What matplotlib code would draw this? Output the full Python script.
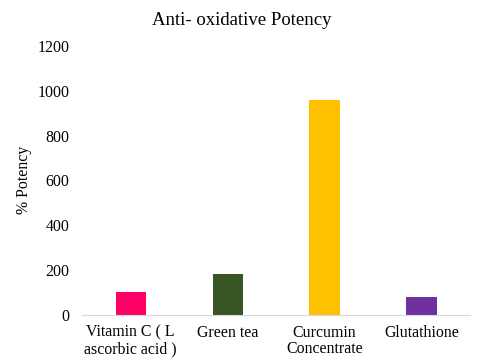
import matplotlib
matplotlib.use('Agg')
import matplotlib.pyplot as plt

categories = ['Vitamin C ( L\nascorbic acid )', 'Green tea', 'Curcumin\nConcentrate', 'Glutathione']
potency = [102, 182, 958, 80]
colors = ['#FF0066', '#375623', '#FFC000', '#7030A0']

plt.rcParams['font.family'] = ['Liberation Serif', 'DejaVu Serif']

fig = plt.figure(figsize=(4.83, 3.64), dpi=100)
ax = fig.add_axes([0.17, 0.135, 0.803, 0.739])

x = range(len(categories))
ax.bar(x, potency, width=0.31, color=colors)

ax.set_xlim(-0.5, 3.5)
ax.set_ylim(0, 1200)
ax.set_yticks(range(0, 1201, 200))
ax.set_xticks(list(x))
ax.set_xticklabels(categories, fontsize=11.4, linespacing=1.05)
ax.tick_params(axis='y', labelsize=11.4, length=0, pad=9)
ax.tick_params(axis='x', length=0, pad=7)

for s in ['top', 'right', 'left']:
    ax.spines[s].set_visible(False)
ax.spines['bottom'].set_color('#D9D9D9')

ax.set_ylabel('% Potency', fontsize=11.4, labelpad=4)
fig.text(0.5, 0.945, 'Anti- oxidative Potency', fontsize=13.5, ha='center', va='center')

fig.savefig('out.png', dpi=100)
